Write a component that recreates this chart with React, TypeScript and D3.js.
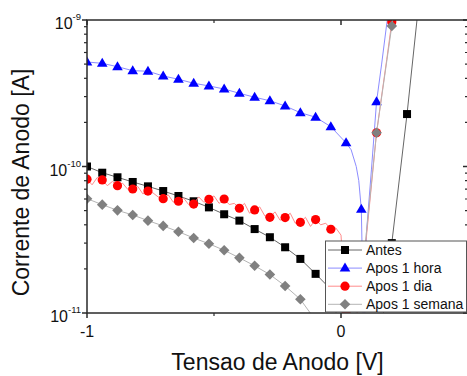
import React from 'react';
import * as d3 from 'd3';

const W = 467;
const H = 376;

const seriesNames = ['Antes', 'Apos 1 hora', 'Apos 1 dia', 'Apos 1 semana'];

const antesV = [-1, -0.94, -0.88, -0.82, -0.76, -0.7, -0.64, -0.58, -0.52, -0.46, -0.4, -0.34, -0.28, -0.22, -0.16, -0.1, -0.04, 0.02, 0.08, 0.14, 0.2, 0.26, 0.32];
const antesI = [1.0e-10, 9.07e-11, 8.44e-11, 7.84e-11, 7.32e-11, 6.8e-11, 6.29e-11, 5.79e-11, 5.26e-11, 4.72e-11, 4.27e-11, 3.74e-11, 3.29e-11, 2.81e-11, 2.34e-11, 1.85e-11, 1.45e-11, 5e-12, 3e-12, 4e-12, 3.0e-11, 2.28e-10, 2.2e-9];

const horaV = [-1, -0.94, -0.88, -0.82, -0.76, -0.7, -0.64, -0.58, -0.52, -0.46, -0.4, -0.34, -0.28, -0.22, -0.16, -0.1, -0.04, 0.02, 0.04, 0.06, 0.07, 0.08, 0.086, 0.09, 0.094, 0.1, 0.12, 0.14, 0.16, 0.18, 0.2];
const horaI = [5.17e-10, 5.06e-10, 4.8e-10, 4.51e-10, 4.47e-10, 4.15e-10, 3.94e-10, 3.7e-10, 3.55e-10, 3.38e-10, 3.16e-10, 2.97e-10, 2.81e-10, 2.59e-10, 2.33e-10, 2.17e-10, 1.87e-10, 1.45e-10, 1.3e-10, 1.0e-10, 8.0e-11, 5.1e-11, 1.5e-11, 2e-12, 1.0e-11, 3.5e-11, 9.6e-11, 2.77e-10, 5.0e-10, 9.4e-10, 1.6e-9];

const diaV = [-1, -0.98, -0.96, -0.94, -0.92, -0.9, -0.88, -0.86, -0.84, -0.82, -0.8, -0.78, -0.76, -0.74, -0.72, -0.7, -0.68, -0.66, -0.64, -0.62, -0.6, -0.58, -0.56, -0.54, -0.52, -0.5, -0.48, -0.46, -0.44, -0.42, -0.4, -0.38, -0.36, -0.34, -0.32, -0.3, -0.28, -0.26, -0.24, -0.22, -0.2, -0.18, -0.16, -0.14, -0.12, -0.1, -0.08, -0.06, -0.04, -0.02, 0, 0.02, 0.04, 0.06, 0.08, 0.1, 0.12, 0.14, 0.16, 0.18, 0.2, 0.22, 0.24];
const diaI = [8.19e-11, 7.5e-11, 8.4e-11, 8.1e-11, 7.4e-11, 7.9e-11, 7.4e-11, 7.7e-11, 7.0e-11, 7.02e-11, 7.3e-11, 6.5e-11, 6.8e-11, 6.6e-11, 6.2e-11, 6.03e-11, 6.4e-11, 5.7e-11, 5.79e-11, 6.1e-11, 5.5e-11, 5.54e-11, 6.2e-11, 5.7e-11, 5.97e-11, 6.3e-11, 5.6e-11, 6.0e-11, 5.5e-11, 5.6e-11, 5.19e-11, 5.6e-11, 4.8e-11, 5.05e-11, 5.3e-11, 4.6e-11, 4.5e-11, 4.9e-11, 4.3e-11, 4.48e-11, 4.8e-11, 4.1e-11, 4.16e-11, 4.5e-11, 3.9e-11, 4.34e-11, 4.0e-11, 4.1e-11, 3.73e-11, 3.8e-11, 3.4e-11, 1.0e-11, 5e-12, 8e-12, 2.0e-11, 3.3e-11, 7.5e-11, 1.7e-10, 3.03e-10, 5.37e-10, 9.7e-10, 1.6e-9, 2.6e-9];

const semanaV = [-1, -0.94, -0.88, -0.82, -0.76, -0.7, -0.64, -0.58, -0.52, -0.46, -0.4, -0.34, -0.28, -0.22, -0.16, -0.1, -0.04, 0.02, 0.08, 0.14, 0.2, 0.26];
const semanaI = [6.03e-11, 5.49e-11, 5.02e-11, 4.67e-11, 4.27e-11, 3.93e-11, 3.59e-11, 3.25e-11, 2.97e-11, 2.68e-11, 2.38e-11, 2.1e-11, 1.83e-11, 1.53e-11, 1.24e-11, 8.9e-12, 5.5e-12, 4e-12, 1.6e-11, 1.7e-10, 9.1e-10, 4.5e-9];

const xMajorTicks = [-1, 0];
const xMajorLabels = ['-1', '0'];
const xMinorTicks = [-0.5, 0.5];
const yMajorTicks = [1e-11, 1e-10, 1e-9];
const yMajorExps = ['-11', '-10', '-9'];

const xTitle = 'Tensao de Anodo [V]';
const yTitle = 'Corrente de Anodo [A]';

const FONT = 'Liberation Sans, Arial, sans-serif';

const markerStep = 0.06;
const isMarker = (v: number) => {
  const k = (v + 1) / markerStep;
  return Math.abs(k - Math.round(k)) < 1e-6;
};

type Series = {
  name: string;
  V: number[];
  I: number[];
  lineColor: string;
  markColor: string;
  shape: 'square' | 'triangle' | 'circle' | 'diamond';
};

const series: Series[] = [
  { name: seriesNames[0], V: antesV, I: antesI, lineColor: '#666666', markColor: '#000000', shape: 'square' },
  { name: seriesNames[1], V: horaV, I: horaI, lineColor: '#8c8cff', markColor: '#0000ff', shape: 'triangle' },
  { name: seriesNames[2], V: diaV, I: diaI, lineColor: '#ff8c8c', markColor: '#ff0000', shape: 'circle' },
  { name: seriesNames[3], V: semanaV, I: semanaI, lineColor: '#b4b4b4', markColor: '#808080', shape: 'diamond' },
];

function Marker({ shape, x, y, color }: { shape: string; x: number; y: number; color: string }) {
  if (shape === 'square') return <rect x={x - 4} y={y - 4} width={8} height={8} fill={color} />;
  if (shape === 'circle') return <circle cx={x} cy={y} r={4.6} fill={color} />;
  if (shape === 'triangle')
    return <path d={`M${x},${y - 5.5} L${x + 5.3},${y + 3.5} L${x - 5.3},${y + 3.5} Z`} fill={color} />;
  return <path d={`M${x},${y - 5.3} L${x + 5.3},${y} L${x},${y + 5.3} L${x - 5.3},${y} Z`} fill={color} />;
}

export default function App() {
  const left = 87, right = 468, top = 20, bottom = 313;
  const x = d3.scaleLinear().domain([-1, 0.5]).range([left, right]);
  const y = d3.scaleLog().domain([1e-11, 1e-9]).range([bottom, top]);

  const yMinor: number[] = [];
  for (const base of [1e-11, 1e-10]) for (let k = 2; k <= 9; k++) yMinor.push(base * k);

  const line = d3
    .line<[number, number]>()
    .x((d) => x(d[0]))
    .y((d) => y(d[1]));

  const axisColor = '#2a2a2a';

  return (
    <svg width={W} height={H} style={{ position: 'absolute', left: 0, top: 0, background: '#fff' }} fontFamily={FONT}>
      <defs>
        <clipPath id="plotclip">
          <rect x={left} y={top} width={right - left} height={bottom - top} />
        </clipPath>
      </defs>
      <rect x={0} y={0} width={W} height={H} fill="#fff" />

      <g clipPath="url(#plotclip)">
        {series.map((s) => {
          const pts: [number, number][] = s.V.map((v, i) => [v, s.I[i]]);
          return (
            <g key={s.name}>
              <path d={line(pts) || ''} fill="none" stroke={s.lineColor} strokeWidth={1} />
              {pts
                .filter((p) => isMarker(p[0]))
                .map((p, i) => (
                  <Marker key={i} shape={s.shape} x={x(p[0])} y={y(p[1])} color={s.markColor} />
                ))}
            </g>
          );
        })}
      </g>

      {/* frame */}
      <rect x={left} y={top} width={right - left} height={bottom - top} fill="none" stroke={axisColor} strokeWidth={1.5} />

      {/* y ticks left (outward) and right (inward) */}
      {yMajorTicks.map((t, i) => (
        <g key={'ym' + i}>
          <line x1={left - 5} x2={left} y1={y(t)} y2={y(t)} stroke={axisColor} strokeWidth={1.5} />
          <line x1={right - 5} x2={right} y1={y(t)} y2={y(t)} stroke={axisColor} strokeWidth={1.5} />
          <text x={81} y={y(t) + 9} textAnchor="end" fontSize={16} fill="#111">
            10
            <tspan fontSize={9.5} dy={-9}>
              {yMajorExps[i]}
            </tspan>
          </text>
        </g>
      ))}
      {yMinor.map((t, i) => (
        <g key={'yn' + i}>
          <line x1={left - 3} x2={left} y1={y(t)} y2={y(t)} stroke={axisColor} strokeWidth={1.2} />
          <line x1={right - 3} x2={right} y1={y(t)} y2={y(t)} stroke={axisColor} strokeWidth={1.2} />
        </g>
      ))}

      {/* x ticks bottom (outward) and top (inward) */}
      {xMajorTicks.map((t, i) => (
        <g key={'xm' + i}>
          <line x1={x(t)} x2={x(t)} y1={bottom} y2={bottom + 5} stroke={axisColor} strokeWidth={1.5} />
          <line x1={x(t)} x2={x(t)} y1={top} y2={top + 5} stroke={axisColor} strokeWidth={1.5} />
          <text x={x(t)} y={337} textAnchor="middle" fontSize={16} fill="#111">
            {xMajorLabels[i]}
          </text>
        </g>
      ))}
      {xMinorTicks.map((t, i) => (
        <g key={'xn' + i}>
          <line x1={x(t)} x2={x(t)} y1={bottom} y2={bottom + 3} stroke={axisColor} strokeWidth={1.2} />
          <line x1={x(t)} x2={x(t)} y1={top} y2={top + 3} stroke={axisColor} strokeWidth={1.2} />
        </g>
      ))}

      {/* titles */}
      <text x={277.5} y={369.5} textAnchor="middle" fontSize={23} fill="#111">
        {xTitle}
      </text>
      <text transform="translate(28.5,182.5) rotate(-90)" textAnchor="middle" fontSize={23} fill="#111">
        {yTitle}
      </text>

      {/* legend */}
      <g>
        <rect x={325.5} y={241} width={141} height={71} fill="#fff" stroke="#555" strokeWidth={1} />
        {series.map((s, i) => {
          const cy = 250 + i * 18.1;
          return (
            <g key={'lg' + i}>
              <line x1={328} x2={362} y1={cy} y2={cy} stroke={s.lineColor} strokeWidth={1} />
              <Marker shape={s.shape} x={345} y={cy} color={s.markColor} />
              <text x={366} y={cy + 5} fontSize={14} fill="#111">
                {s.name}
              </text>
            </g>
          );
        })}
      </g>
    </svg>
  );
}
